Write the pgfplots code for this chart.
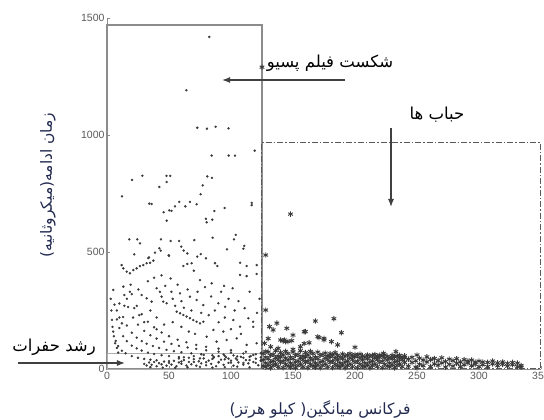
\documentclass[border=0pt]{standalone}
\usepackage{fontspec}
\setmainfont{Liberation Sans}
\newfontfamily\fa[Script=Arabic]{DejaVu Sans}
\TeXXeTstate=1
\usepackage{pgfplots}
\pgfplotsset{compat=1.18}
\usetikzlibrary{arrows.meta}
\definecolor{ptc}{HTML}{3A3A3A}
\definecolor{boxc}{HTML}{8C8C8C}
\definecolor{dashc}{HTML}{5A5A5A}
\definecolor{labc}{HTML}{222A50}
\begin{document}
\begin{tikzpicture}
\begin{axis}[
  at={(0,0)}, anchor=south west, scale only axis,
  width=434pt, height=351pt,
  xmin=0, xmax=350, ymin=0, ymax=1500,
  axis x line*=bottom, axis y line*=left,
  axis line style={draw=boxc, line width=0.9pt},
  xtick={0,50,...,350}, ytick={0,500,1000,1500},
  tick align=inside, major tick length=3pt,
  tick style={draw=boxc, line width=0.6pt},
  ticklabel style={font=\fontsize{10.5}{11}\selectfont, text=black!65},
  yticklabel style={xshift=1pt},
  /pgf/number format/assume math mode=true,
  /pgf/number format/1000 sep={},
  clip=false,
]
% region boxes
\draw[boxc, line width=1.1pt] (axis cs:0,0) rectangle (axis cs:125,1470);
\draw[boxc!70, line width=0.6pt] (axis cs:0,0) rectangle (axis cs:125,65);
\draw[dashc, line width=1pt, dash pattern=on 6pt off 2pt on 1.5pt off 2pt] (axis cs:125,0) rectangle (axis cs:350,966);

% dots: crack growth and passive film rupture
\addplot[only marks, mark=*, mark size=1pt, color=ptc] table {
82.5 1419
64 1191
72.8 1031
80.6 1027
87.6 1035
98 1028
84.4 912
98.1 912
103.2 912
119.1 933
20.2 808
28.5 826
48 825
51 825
48.1 799
42.2 778
80.9 823
84.7 817
77.2 785
12.1 738
75.5 747
34.1 707
36 705
58.3 714
54.8 695
50.2 678
52 676
45.7 670
63.2 695
66.9 714
72.3 704
86.6 675
94.9 688
116.7 710
116.7 700
48.1 634
79.8 642
80.4 627
84.9 638
18 554
24.4 554
26.6 537
43.5 554
51.3 547
58.1 547
59.9 523
61.8 506
70.4 551
85.2 561
103.8 573
102.4 554
110.7 526
110 514
96.8 511
22 490
33.3 474
42.2 516
43.3 506
38.7 497
50 484
75.6 491
33.9 477
49.7 486
64.8 494
72.8 480
79.8 473
87.1 452
89 440
107.3 454
112.6 440
120.7 444
11.8 444
13.2 430
15.9 416
18.5 409
21.2 423
23.9 430
26.6 440
29.3 444
32 452
34.7 454
37.4 463
61.6 440
64.8 449
68.3 452
51.3 387
75 380
84.4 366
94.4 355
101.3 345
107.3 402
112.6 397
120.7 406
5.1 338
13.2 352
18.5 330
25.3 340
27.9 316
32 302
36 288
40 345
42.7 330
44 309
45.4 288
48.1 281
56.2 245
58.9 238
61.6 231
64.2 224
66.9 217
69.6 209
72.3 202
75 195
77.7 202
58.9 323
66.9 309
72.3 295
77.7 273
89.8 281
95.2 266
101.9 209
107.3 181
114 217
117.9 202
85.8 167
93.8 160
80.4 138
88.4 117
96.5 124
104.6 131
112.6 103
120.7 110
8 250
10 220
12 195
14 270
16 300
19 360
22 260
26 230
30 200
33 375
35 250
38 390
40 220
44 400
47 355
52 330
53 300
55 270
57 360
60 290
62 262
65 340
68 250
70 420
73 330
76 240
79 350
82 230
84 310
87 250
90 200
92 330
95 220
98 300
100 170
103 250
106 290
108 150
111 260
115 330
118 180
121 240
123 300
60 180
66 160
71 150
53 200
46 190
40 170
5 160
7 120
9 98
12 78
15 67
20 55
25 48
30 43
35 40
40 37
50 34
60 32
70 30
80 29
90 28
100 27
110 26
120 26
6 275
8 212
10 175
13 140
16 119
20 100
24 88
28 79
33 70
38 64
44 59
50 55
58 51
66 48
75 45
85 43
95 41
105 39
115 38
124 37
10 280
13 222
16 186
20 155
24 134
28 119
32 108
37 98
42 90
48 82
54 76
60 72
68 67
76 63
85 59
95 56
105 54
115 52
124 50
14 316
17 265
21 220
25 190
30 163
35 144
40 130
46 117
52 107
58 99
65 92
72 86
80 80
90 74
100 70
110 66
120 63
20 320
24 270
28 234
33 202
38 178
44 156
50 140
57 125
64 114
72 103
80 95
90 87
100 80
112 74
124 68
3 300
3.5 250
4 210
4.5 180
5.5 140
6.5 110
8 90
9 70
30 22
32 15
34 28
36 18
38 30
40 12
42 25
44 20
46 32
48 14
50 26
52 19
54 35
56 12
58 28
60 22
62 38
64 15
66 30
68 20
70 42
72 14
74 33
76 24
78 45
80 16
82 36
84 22
86 48
88 12
90 30
92 40
94 18
96 50
98 26
100 36
102 14
104 45
106 28
108 52
110 18
112 38
114 24
116 55
118 30
120 44
122 16
124 35
35 8
45 6
55 5
65 7
75 9
85 6
95 8
105 10
115 7
62 50
70 55
78 60
86 52
94 62
102 58
110 48
118 60
58 45
90 55
98 44
};

% stars: bubbles
\addplot[only marks, mark=asterisk, mark size=2.7pt, line width=0.9pt, color=ptc] table {
125 1290
148 662
128 487
128 252
168 205
183 215
189 155
137 196
131 181
134 167
145 174
140 124
142 120
144 117
150 145
159 159
163 112
170 138
175 131
181 117
156 95
186 103
200 93
223 67
233 74
160 160
171 134
175 124
159 109
143 124
146 117
149 121
150 84
130 130
127 110
132 95
138 88
128 75
126 12
126 38
126 66
128 25
128 50
128 8
130 18
130 44
130 72
132 30
132 58
132 5
134 15
134 35
134 62
136 22
136 48
136 78
138 10
138 40
138 55
140 28
140 52
140 70
142 6
142 33
142 60
144 20
144 46
144 75
146 12
146 38
146 66
148 25
148 50
148 8
150 18
150 44
150 72
152 30
152 58
152 5
154 15
154 35
154 62
156 22
156 48
156 78
158 10
158 40
158 55
160 28
160 52
160 70
162 6
162 33
162 60
164 20
164 46
164 75
166 12
166 38
166 66
168 25
168 50
168 8
170 18
170 44
170 72
172 30
172 58
172 5
174 15
174 35
174 62
176 22
176 48
176 68
178 10
178 40
178 55
180 28
180 52
180 65
182 6
182 33
182 60
184 20
184 46
184 70
186 12
186 38
186 58
188 25
188 50
188 8
190 18
190 44
190 64
192 30
192 55
192 5
194 15
194 35
194 60
196 22
196 48
196 66
198 10
198 40
198 55
200 28
200 52
200 62
202 6
202 33
202 58
204 20
204 46
204 64
206 12
206 38
206 56
208 25
208 50
208 8
210 18
210 44
210 60
212 30
212 54
212 5
214 15
214 35
214 58
216 22
216 48
216 62
218 10
218 40
218 52
220 28
220 50
220 60
222 6
222 33
222 56
224 20
224 46
224 60
226 12
226 38
226 54
228 25
228 48
228 8
230 18
230 44
230 58
232 30
232 52
232 5
234 15
234 35
234 55
236 22
236 46
236 58
238 10
238 40
238 50
240 28
240 48
240 56
243 12
243 42
246 28
246 50
249 8
249 35
250 60
250 5
252 20
252 46
255 14
255 38
258 30
258 52
261 10
261 40
264 22
264 45
267 16
267 36
270 26
270 48
273 8
273 32
276 20
276 42
279 12
279 36
282 24
282 44
285 10
285 30
288 18
288 40
291 26
291 34
294 14
294 38
297 20
297 30
300 10
300 34
303 18
303 30
307 10
307 28
311 22
311 34
315 14
315 26
319 20
319 30
323 12
323 24
327 18
327 28
331 10
331 25
334 15
334 8
};
\end{axis}

% annotations (1pt = 1 reference pixel; origin = axis lower-left)
\node[font=\fa\fontsize{16.5}{18}\selectfont] at (223pt,306pt) {\beginR شکست فیلم پسیو\endR};
\draw[black!75, line width=1.4pt, -{Latex[length=8pt,width=6pt]}] (238pt,289pt) -- (115pt,289pt);
\node[font=\fa\fontsize{16.5}{18}\selectfont] at (330pt,254pt) {\beginR حباب ها\endR};
\draw[black!75, line width=1.2pt, -{Latex[length=8pt,width=6pt]}] (284pt,241pt) -- (284pt,162pt);
\node[font=\fa\fontsize{16.5}{18}\selectfont] at (-53pt,22pt) {\beginR رشد حفرات\endR};
\draw[black!75, line width=1.2pt, -{Latex[length=8pt,width=6pt]}] (-89pt,6pt) -- (18pt,6pt);
\node[font=\fa\fontsize{15.5}{17}\selectfont, text=labc] at (213pt,-40pt) {\beginR فرکانس میانگین( کیلو هرتز)\endR};
\node[font=\fa\fontsize{15.5}{17}\selectfont, text=labc, rotate=90] at (-59pt,184pt) {\beginR زمان ادامه(میکروثانیه)\endR};

\pgfresetboundingbox
\path[use as bounding box] (-107pt,-51pt) rectangle (437pt,369pt);
\end{tikzpicture}
\end{document}
